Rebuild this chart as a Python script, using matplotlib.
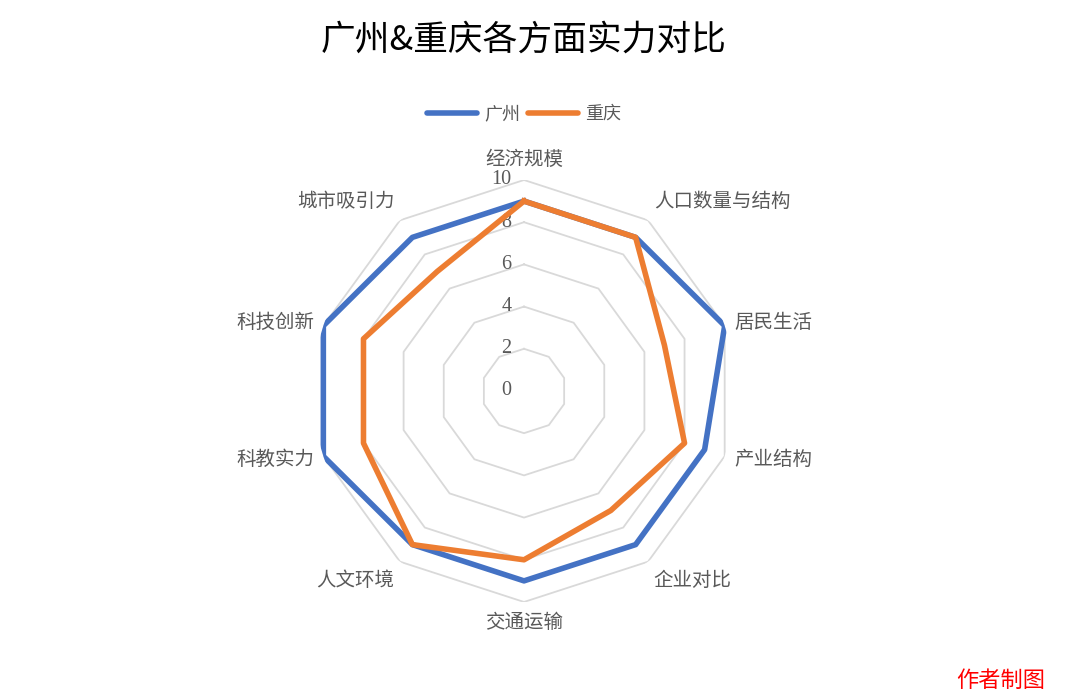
import matplotlib.pyplot as plt
import numpy as np

plt.rcParams['font.family'] = ['Noto Sans CJK SC', 'DejaVu Sans']

categories = ['经济规模', '人口数量与结构', '居民生活', '产业结构', '企业对比',
              '交通运输', '人文环境', '科教实力', '科技创新', '城市吸引力']
guangzhou = [9, 9, 10, 9, 9, 9, 9, 10, 10, 9]
chongqing = [9, 9, 7, 8, 7, 8, 9, 8, 8, 7]
rings = [2, 4, 6, 8, 10]
ring_labels = ['0', '2', '4', '6', '8', '10']

blue = '#4472C4'
orange = '#ED7D31'
gray_txt = '#595959'

fig = plt.figure(figsize=(10.76, 6.99), dpi=100)
ax = fig.add_axes([0.2909, 0.1388, 0.3922, 0.6037], projection='polar')
ax.set_theta_offset(np.pi / 2)
ax.set_theta_direction(-1)
ax.set_ylim(0, 10)
ax.axis('off')

n = len(categories)
theta = np.linspace(0, 2 * np.pi, n, endpoint=False)
theta_c = np.append(theta, theta[0])

# polygon grid
for r in rings:
    ax.plot(theta_c, [r] * (n + 1), color='#D9D9D9', lw=1.3, zorder=1)

# radial value labels
for i, lab in enumerate(ring_labels):
    ax.annotate(lab, xy=(0, i * 2), xytext=(-9, 0), textcoords='offset points',
                ha='right', va='center', fontsize=14.5, color=gray_txt,
                family=['Liberation Serif'])

gz = np.append(guangzhou, guangzhou[0])
cq = np.append(chongqing, chongqing[0])
ax.plot(theta_c, gz, color=blue, lw=4, zorder=3, label='广州')
ax.plot(theta_c, cq, color=orange, lw=4, zorder=4, label='重庆')

# category labels
for t, lab in zip(theta, categories):
    s, c = np.sin(t), np.cos(t)
    ha = 'center' if abs(s) < 0.1 else ('left' if s > 0 else 'right')
    if abs(c) < 0.5:
        va = 'center'
    else:
        va = 'bottom' if c > 0 else 'top'
    ax.annotate(lab, xy=(t, 10), xytext=(7 * s, 7 * c), textcoords='offset points',
                ha=ha, va=va, fontsize=14, color=gray_txt, annotation_clip=False)

fig.text(0.487, 0.943, '广州&重庆各方面实力对比', ha='center', va='center',
         fontsize=25, color='black')

leg = fig.legend(loc='center', bbox_to_anchor=(0.487, 0.837), ncol=2, frameon=False,
                 fontsize=13, handlelength=2.8, handletextpad=0.4, columnspacing=0.4)
for txt in leg.get_texts():
    txt.set_color(gray_txt)
for line in leg.get_lines():
    line.set_solid_capstyle('round')

fig.text(0.93, 0.026, '作者制图', ha='center', va='center', fontsize=16,
         color='red', style='italic')

fig.savefig('out.png', dpi=100)
